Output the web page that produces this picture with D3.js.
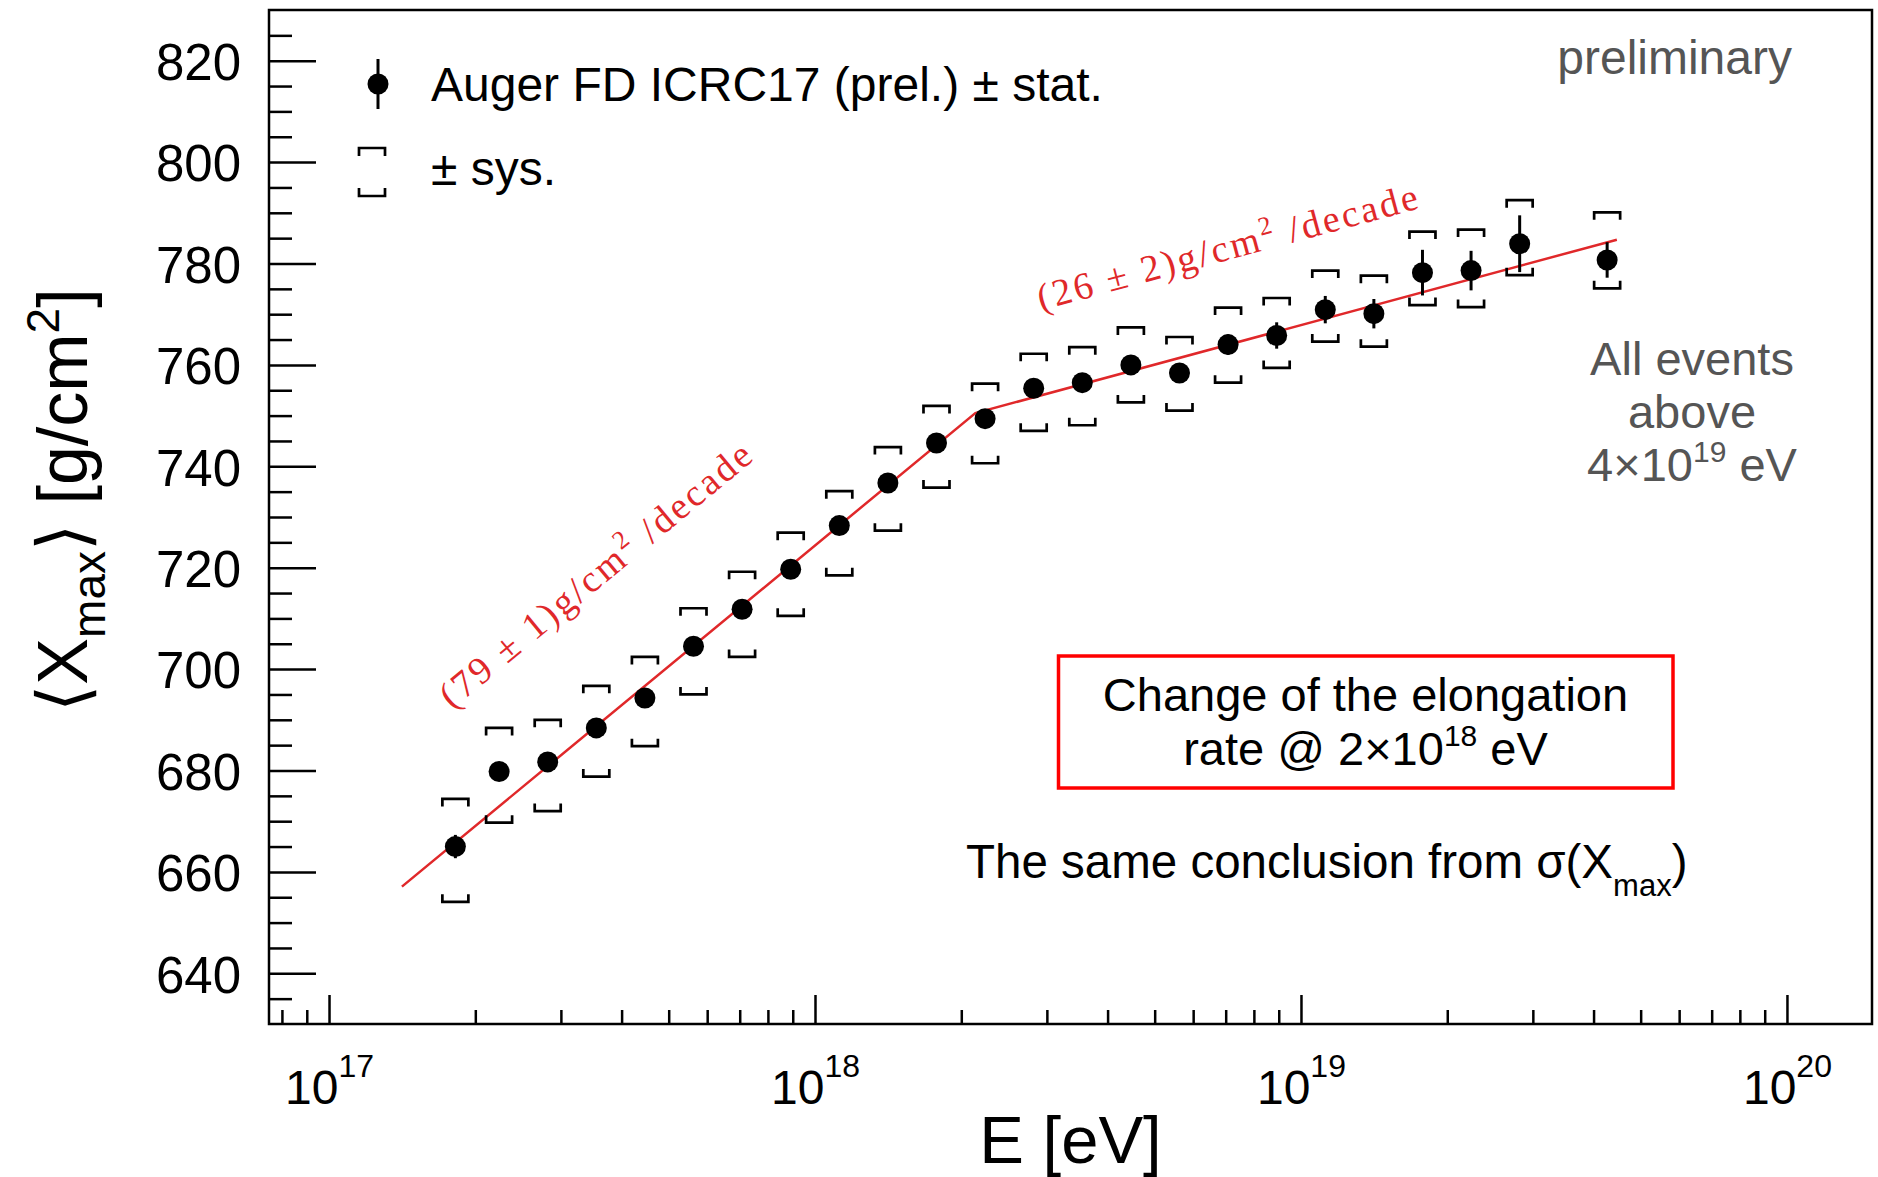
<!DOCTYPE html>
<html><head><meta charset="utf-8">
<script src="https://cdn.jsdelivr.net/npm/d3@7"></script>
<style>html,body{margin:0;padding:0;background:#fff;} svg{display:block;}</style>
</head><body>
<svg id="chart" width="1878" height="1177"></svg>
<script>
// ---------------- data ----------------
const lgE = [17.26, 17.35, 17.45, 17.55, 17.65, 17.75, 17.85, 17.95, 18.05, 18.15, 18.25, 18.35,
             18.45, 18.55, 18.65, 18.75, 18.85, 18.95, 19.05, 19.15, 19.25, 19.35, 19.45, 19.63];
const xmaxMean = [665.0, 679.8, 681.7, 688.4, 694.3, 704.5, 711.8, 719.7, 728.3, 736.7, 744.6, 749.4,
                  755.4, 756.5, 760.0, 758.4, 764.0, 765.8, 770.9, 770.1, 778.2, 778.6, 783.9, 780.7];
const statErr = [2.3, 1.5, 1.2, 1.0, 1.0, 1.0, 1.0, 1.0, 1.0, 1.0, 1.2, 1.3,
                 1.5, 1.5, 1.7, 1.8, 2.0, 2.6, 2.7, 2.9, 4.5, 3.9, 5.6, 3.5];
const sysUp   = [9.4, 8.6, 8.3, 8.3, 8.1, 7.5, 7.4, 7.2, 6.8, 7.1, 7.3, 6.9,
                 6.8, 7.0, 7.4, 7.1, 7.3, 7.4, 7.7, 7.5, 8.1, 8.1, 8.6, 9.4];
const sysDown = [10.9, 10.1, 9.7, 9.6, 9.5, 9.5, 9.4, 9.2, 9.8, 9.4, 8.8, 8.8,
                 8.4, 8.4, 7.4, 7.4, 7.5, 6.4, 6.3, 6.5, 6.4, 7.2, 6.2, 5.6];
// broken-line fit (lg E, <Xmax>)
const fitLgE  = [17.15, 18.33, 19.65];
const fitXmax = [657.1, 750.5, 784.7];
// elongation-rate labels
const fitLabelMain = ["(79 \u00B1 1)g/cm", "(26 \u00B1 2)g/cm"];
const fitLabelLgE  = [17.253, 18.465];
const fitLabelXmax = [692.0, 770.7];
// axis ticks
const yMajorTicks = [640, 660, 680, 700, 720, 740, 760, 780, 800, 820];
const yMinorTicks = [635, 645, 650, 655, 665, 670, 675, 685, 690, 695, 705, 710, 715, 725, 730, 735,
                     745, 750, 755, 765, 770, 775, 785, 790, 795, 805, 810, 815, 825];
const xMajorTicks = [1e17, 1e18, 1e19, 1e20];
const xMajorExp = ["17", "18", "19", "20"];
const xMinorTicks = [8e16, 9e16,
  2e17, 3e17, 4e17, 5e17, 6e17, 7e17, 8e17, 9e17,
  2e18, 3e18, 4e18, 5e18, 6e18, 7e18, 8e18, 9e18,
  2e19, 3e19, 4e19, 5e19, 6e19, 7e19, 8e19, 9e19];

// ---------------- layout ----------------
const L = 269, R = 1872, T = 10, B = 1024;
const sans = "'Liberation Sans', Arial, Helvetica, sans-serif";
const serif = "'Liberation Serif', 'Times New Roman', serif";
const red = "#e0282a";

const svg = d3.select("#chart");
const x = d3.scaleLog().domain([Math.pow(10, 16.8765), Math.pow(10, 20.175)]).range([L, R]);
const y = d3.scaleLinear().domain([630, 830]).range([B, T]);
const E = v => Math.pow(10, v);

// ---------------- axes ----------------
function styleAxis(g) {
  g.select(".domain").remove();
  g.selectAll(".tick line").attr("stroke", "#000").attr("stroke-width", 2.5);
}
const yMinor = svg.append("g").attr("transform", `translate(${L},0)`)
  .call(d3.axisLeft(y).tickValues(yMinorTicks).tickSizeInner(-23).tickSizeOuter(0).tickFormat(""));
styleAxis(yMinor);
const yMajor = svg.append("g").attr("transform", `translate(${L},0)`)
  .call(d3.axisLeft(y).tickValues(yMajorTicks).tickSizeInner(-47).tickSizeOuter(0).tickPadding(28).tickFormat(d3.format("d")));
styleAxis(yMajor);
yMajor.selectAll(".tick text").attr("font-family", sans).attr("font-size", 51).attr("fill", "#000").attr("dy", "0.37em");

const xMinor = svg.append("g").attr("transform", `translate(0,${B})`)
  .call(d3.axisBottom(x).tickValues(xMinorTicks).tickSizeInner(-14).tickSizeOuter(0).tickFormat(""));
styleAxis(xMinor);
const xMajor = svg.append("g").attr("transform", `translate(0,${B})`)
  .call(d3.axisBottom(x).tickValues(xMajorTicks).tickSizeInner(-29).tickSizeOuter(0).tickFormat(""));
styleAxis(xMajor);
xMajor.selectAll(".tick text").remove();
xMajor.selectAll(".tick").each(function (d, i) {
  const t = d3.select(this).append("text")
    .attr("y", 80).attr("text-anchor", "middle")
    .attr("font-family", sans).attr("fill", "#000");
  t.append("tspan").attr("font-size", 48).text("10");
  t.append("tspan").attr("font-size", 32).attr("dy", -27).text(xMajorExp[i]);
});

// frame
svg.append("rect").attr("x", L).attr("y", T).attr("width", R - L).attr("height", B - T)
  .attr("fill", "none").attr("stroke", "#000").attr("stroke-width", 2.5);

// axis titles
svg.append("text").attr("x", (L + R) / 2).attr("y", 1163).attr("text-anchor", "middle")
  .attr("font-family", sans).attr("font-size", 67).attr("fill", "#000").text("E [eV]");

const yt = svg.append("text").attr("transform", "translate(87,500) rotate(-90)")
  .attr("text-anchor", "middle").attr("font-family", sans).attr("font-size", 70).attr("fill", "#000");
yt.append("tspan").text("\u27E8X");
yt.append("tspan").attr("font-size", 46).attr("dy", 18).text("max");
yt.append("tspan").attr("dy", -18).text("\u27E9 [g/cm");
yt.append("tspan").attr("font-size", 46).attr("dy", -28).text("2");
yt.append("tspan").attr("dy", 28).text("]");

// ---------------- fit ----------------
const fitPts = fitLgE.map((v, i) => [x(E(v)), y(fitXmax[i])]);
svg.append("path").attr("d", d3.line()(fitPts)).attr("fill", "none")
  .attr("stroke", red).attr("stroke-width", 2.5);

fitLabelMain.forEach((txt, i) => {
  const a = fitPts[i], b = fitPts[i + 1];
  const ang = Math.atan2(b[1] - a[1], b[0] - a[0]) * 180 / Math.PI;
  const px = x(E(fitLabelLgE[i])), py = y(fitLabelXmax[i]);
  const t = svg.append("text").attr("transform", `translate(${px},${py}) rotate(${ang})`)
    .attr("font-family", serif).attr("font-size", 38).attr("fill", red)
    .attr("letter-spacing", 2.8);
  t.append("tspan").text(txt);
  t.append("tspan").attr("font-size", 26).attr("dy", -15).text("2");
  t.append("tspan").attr("dy", 15).text(" /decade");
});

// ---------------- data points ----------------
const pts = svg.append("g");
lgE.forEach((v, i) => {
  const cx = x(E(v));
  const yTop = y(xmaxMean[i] + sysUp[i]), yBot = y(xmaxMean[i] - sysDown[i]);
  pts.append("path")
    .attr("d", `M${cx - 13},${yTop + 7.5}V${yTop}H${cx + 13}V${yTop + 7.5}` +
               `M${cx - 13},${yBot - 7.5}V${yBot}H${cx + 13}V${yBot - 7.5}`)
    .attr("fill", "none").attr("stroke", "#000").attr("stroke-width", 2.7);
  pts.append("line").attr("x1", cx).attr("x2", cx)
    .attr("y1", y(xmaxMean[i] + statErr[i])).attr("y2", y(xmaxMean[i] - statErr[i]))
    .attr("stroke", "#000").attr("stroke-width", 3);
  pts.append("circle").attr("cx", cx).attr("cy", y(xmaxMean[i])).attr("r", 10.5).attr("fill", "#000");
});

// ---------------- legend ----------------
const lg = svg.append("g");
lg.append("line").attr("x1", 378).attr("x2", 378).attr("y1", 59).attr("y2", 109)
  .attr("stroke", "#000").attr("stroke-width", 3);
lg.append("circle").attr("cx", 378).attr("cy", 84).attr("r", 10.5).attr("fill", "#000");
lg.append("text").attr("x", 431).attr("y", 101).attr("font-family", sans).attr("font-size", 48)
  .attr("fill", "#000").text("Auger FD ICRC17 (prel.) \u00B1 stat.");
lg.append("path").attr("d", "M359,156V148H385V156M359,188V196H385V188")
  .attr("fill", "none").attr("stroke", "#000").attr("stroke-width", 2.7);
lg.append("text").attr("x", 431).attr("y", 185).attr("font-family", sans).attr("font-size", 48)
  .attr("fill", "#000").text("\u00B1 sys.");

// ---------------- annotations ----------------
svg.append("text").attr("x", 1792).attr("y", 74).attr("text-anchor", "end")
  .attr("font-family", sans).attr("font-size", 48).attr("fill", "#555").text("preliminary");

const ae = svg.append("text").attr("text-anchor", "middle").attr("font-family", sans)
  .attr("font-size", 47).attr("fill", "#555");
ae.append("tspan").attr("x", 1692).attr("y", 375).text("All events");
ae.append("tspan").attr("x", 1692).attr("y", 428).text("above");
const l3 = svg.append("text").attr("x", 1692).attr("y", 481).attr("text-anchor", "middle")
  .attr("font-family", sans).attr("font-size", 47).attr("fill", "#555");
l3.append("tspan").text("4\u00D710");
l3.append("tspan").attr("font-size", 30).attr("dy", -19).text("19");
l3.append("tspan").attr("dy", 19).text(" eV");

svg.append("rect").attr("x", 1058.5).attr("y", 656).attr("width", 614.5).attr("height", 132)
  .attr("fill", "none").attr("stroke", "#ff0000").attr("stroke-width", 3.5);
svg.append("text").attr("x", 1365.5).attr("y", 711).attr("text-anchor", "middle")
  .attr("font-family", sans).attr("font-size", 47).attr("fill", "#000").text("Change of the elongation");
const l2 = svg.append("text").attr("x", 1365.5).attr("y", 765).attr("text-anchor", "middle")
  .attr("font-family", sans).attr("font-size", 47).attr("fill", "#000");
l2.append("tspan").text("rate @ 2\u00D710");
l2.append("tspan").attr("font-size", 30).attr("dy", -19).text("18");
l2.append("tspan").attr("dy", 19).text(" eV");

const sc = svg.append("text").attr("x", 966).attr("y", 878)
  .attr("font-family", sans).attr("font-size", 47.5).attr("fill", "#000");
sc.append("tspan").text("The same conclusion from \u03C3(X");
sc.append("tspan").attr("font-size", 31).attr("dy", 18).text("max");
sc.append("tspan").attr("dy", -18).text(")");
</script>
</body></html>
